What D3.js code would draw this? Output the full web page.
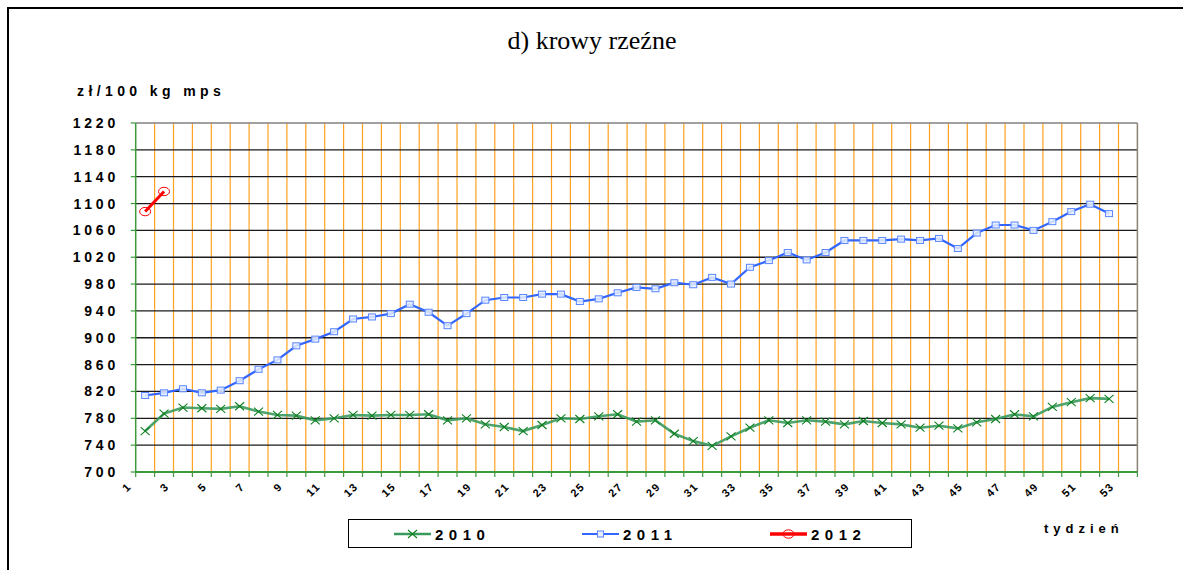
<!DOCTYPE html>
<html>
<head>
<meta charset="utf-8">
<script src="https://cdn.jsdelivr.net/npm/d3@7"></script>
<style>
body { margin: 0; background: #fff; }
svg { display: block; font-family: Arial, "Liberation Sans", sans-serif; }
</style>
</head>
<body>
<script>
var weeks = [1,2,3,4,5,6,7,8,9,10,11,12,13,14,15,16,17,18,19,20,21,22,23,24,25,26,27,
             28,29,30,31,32,33,34,35,36,37,38,39,40,41,42,43,44,45,46,47,48,49,50,51,52,53];

var price2010 = [761,787,796,795,794,798,790,785,784,777,780,785,784,785,785,786,777,780,771,767,
                 761,770,780,779,783,786,775,777,757,746,739,753,766,777,773,777,775,771,776,773,
                 771,766,769,765,774,779,786,783,797,804,810,809];
var price2011 = [814,818,824,818,822,836,853,867,888,898,909,928,931,936,950,938,918,936,956,960,
                 960,965,965,954,958,967,975,973,982,979,990,980,1005,1015,1027,1016,1027,1045,1045,1045,
                 1047,1045,1048,1033,1056,1068,1068,1060,1073,1088,1099,1085];
var price2012 = [1088,1118];

var yTicks = [700,740,780,820,860,900,940,980,1020,1060,1100,1140,1180,1220];
var xLabels = [1,3,5,7,9,11,13,15,17,19,21,23,25,27,29,31,33,35,37,39,41,43,45,47,49,51,53];
var seriesNames = ["2010","2011","2012"];

var width = 1183, height = 570,
    plotLeft = 135.7, plotRight = 1137.4,
    plotTop = 123, plotBottom = 472;

var x = d3.scaleBand().domain(weeks).range([plotLeft, plotRight]);
var y = d3.scaleLinear().domain([700, 1220]).range([plotBottom, plotTop]);
var cx = function(w){ return x(w) + x.bandwidth()/2; };

var svg = d3.select("body").append("svg")
    .attr("width", width)
    .attr("height", height);

// outer frame
svg.append("rect")
    .attr("x", 8).attr("y", 8)
    .attr("width", 1300).attr("height", 700)
    .attr("fill", "none")
    .attr("stroke", "#000")
    .attr("stroke-width", 2);

svg.append("text")
    .attr("x", 592).attr("y", 49)
    .attr("text-anchor", "middle")
    .style("font-family", "'Liberation Serif', 'Times New Roman', serif")
    .style("font-size", "26px")
    .text("d) krowy rzeźne");

svg.append("text")
    .attr("x", 77).attr("y", 96)
    .style("font-size", "14px")
    .style("font-weight", "bold")
    .style("letter-spacing", "4.4px")
    .text("zł/100 kg mps");

// vertical grid (category boundaries)
svg.append("g").selectAll("line")
    .data(weeks.slice(1))
    .enter().append("line")
    .attr("x1", function(d){ return x(d); })
    .attr("x2", function(d){ return x(d); })
    .attr("y1", plotTop).attr("y2", plotBottom)
    .attr("stroke", "#FFA21F")
    .attr("stroke-width", 1.2);

// horizontal grid
svg.append("g").selectAll("line")
    .data(yTicks.slice(1))
    .enter().append("line")
    .attr("x1", plotLeft).attr("x2", plotRight)
    .attr("y1", function(d){ return y(d); })
    .attr("y2", function(d){ return y(d); })
    .attr("stroke", function(d){ return d == 1220 ? "#808080" : "#1a1a1a"; })
    .attr("stroke-width", 1.3);

svg.append("line")
    .attr("x1", plotRight).attr("x2", plotRight)
    .attr("y1", plotTop).attr("y2", plotBottom)
    .attr("stroke", "#8c8070").attr("stroke-width", 1.5);

// axes
var axisColor = "#3c9a3c";
svg.append("line")
    .attr("x1", plotLeft).attr("x2", plotLeft)
    .attr("y1", plotTop).attr("y2", plotBottom)
    .attr("stroke", axisColor).attr("stroke-width", 1.5);
svg.append("line")
    .attr("x1", plotLeft).attr("x2", plotRight)
    .attr("y1", plotBottom).attr("y2", plotBottom)
    .attr("stroke", axisColor).attr("stroke-width", 2);

svg.append("g").selectAll("line")
    .data(yTicks)
    .enter().append("line")
    .attr("x1", plotLeft - 5).attr("x2", plotLeft)
    .attr("y1", function(d){ return y(d); })
    .attr("y2", function(d){ return y(d); })
    .attr("stroke", axisColor).attr("stroke-width", 1.2);

svg.append("g").selectAll("line")
    .data(weeks.concat(["end"]))
    .enter().append("line")
    .attr("x1", function(d){ return d == "end" ? plotRight : x(d); })
    .attr("x2", function(d){ return d == "end" ? plotRight : x(d); })
    .attr("y1", plotBottom).attr("y2", plotBottom + 5)
    .attr("stroke", axisColor).attr("stroke-width", 1.2);

svg.append("g").selectAll("text")
    .data(yTicks)
    .enter().append("text")
    .attr("x", 119)
    .attr("y", function(d){ return y(d) + 5; })
    .attr("text-anchor", "end")
    .style("font-size", "14px")
    .style("font-weight", "bold")
    .style("letter-spacing", "3.8px")
    .text(function(d){ return d; });

svg.append("g").selectAll("text")
    .data(xLabels)
    .enter().append("text")
    .attr("transform", function(d){ return "translate(" + (cx(d) - 13) + "," + 487 + ") rotate(-45)"; })
    .attr("text-anchor", "end")
    .style("font-size", "11px")
    .style("font-weight", "bold")
    .style("letter-spacing", "1.5px")
    .text(function(d){ return d; });

// series
var line = d3.line()
    .x(function(d, i){ return cx(weeks[i]); })
    .y(function(d){ return y(d); });

var g2010 = svg.append("g");
g2010.append("path")
    .attr("d", line(price2010))
    .attr("fill", "none")
    .attr("stroke", "#3a9a5e")
    .attr("stroke-width", 2.6)
    .attr("stroke-opacity", 0.9);
g2010.selectAll("path.mk")
    .data(price2010)
    .enter().append("path")
    .attr("class", "mk")
    .attr("transform", function(d, i){ return "translate(" + cx(weeks[i]) + "," + y(d) + ")"; })
    .attr("d", "M-4.5,-4L4.5,4M-4.5,4L4.5,-4")
    .attr("stroke", "#0f7f1f")
    .attr("stroke-width", 1.1);

var g2011 = svg.append("g");
g2011.append("path")
    .attr("d", line(price2011))
    .attr("fill", "none")
    .attr("stroke", "#3366ff")
    .attr("stroke-width", 2.2);
g2011.selectAll("rect")
    .data(price2011)
    .enter().append("rect")
    .attr("x", function(d, i){ return cx(weeks[i]) - 3.5; })
    .attr("y", function(d){ return y(d) - 3; })
    .attr("width", 7).attr("height", 6)
    .attr("fill", "rgba(230,238,255,0.85)")
    .attr("stroke", "#5a86ff")
    .attr("stroke-width", 1);

var g2012 = svg.append("g");
g2012.append("path")
    .attr("d", line(price2012))
    .attr("fill", "none")
    .attr("stroke", "#ff0000")
    .attr("stroke-width", 3);
g2012.selectAll("ellipse")
    .data(price2012)
    .enter().append("ellipse")
    .attr("cx", function(d, i){ return cx(weeks[i]); })
    .attr("cy", function(d){ return y(d); })
    .attr("rx", 5.5).attr("ry", 4.2)
    .attr("fill", "none")
    .attr("stroke", "#ff0000")
    .attr("stroke-width", 1);

// legend
var legend = svg.append("g");
legend.append("rect")
    .attr("x", 348.5).attr("y", 519.5)
    .attr("width", 563).attr("height", 28)
    .attr("fill", "#fff")
    .attr("stroke", "#000")
    .attr("stroke-width", 1);

var legendX = [394, 582, 770];
var legendColors = ["#3a9a5e", "#3366ff", "#ff0000"];
var legendWidths = [2.6, 2.2, 3.5];

legend.selectAll("line")
    .data(seriesNames)
    .enter().append("line")
    .attr("x1", function(d, i){ return legendX[i]; })
    .attr("x2", function(d, i){ return legendX[i] + 37; })
    .attr("y1", 534).attr("y2", 534)
    .attr("stroke", function(d, i){ return legendColors[i]; })
    .attr("stroke-width", function(d, i){ return legendWidths[i]; });

legend.append("path")
    .attr("transform", "translate(" + (legendX[0] + 18.5) + ",534)")
    .attr("d", "M-4.5,-4L4.5,4M-4.5,4L4.5,-4")
    .attr("stroke", "#0f7f1f").attr("stroke-width", 1.1);
legend.append("rect")
    .attr("x", legendX[1] + 15.5).attr("y", 531)
    .attr("width", 6).attr("height", 6)
    .attr("fill", "#e6eeff").attr("stroke", "#5a86ff");
legend.append("ellipse")
    .attr("cx", legendX[2] + 18.5).attr("cy", 534)
    .attr("rx", 5.5).attr("ry", 4.2)
    .attr("fill", "none").attr("stroke", "#ff0000");

legend.selectAll("text")
    .data(seriesNames)
    .enter().append("text")
    .attr("x", function(d, i){ return legendX[i] + 41; })
    .attr("y", 540)
    .style("font-size", "15px")
    .style("font-weight", "bold")
    .style("letter-spacing", "5.5px")
    .text(function(d){ return d; });

svg.append("text")
    .attr("x", 1044).attr("y", 533)
    .style("font-size", "13px")
    .style("font-weight", "bold")
    .style("letter-spacing", "5px")
    .text("tydzień");
</script>
</body>
</html>
